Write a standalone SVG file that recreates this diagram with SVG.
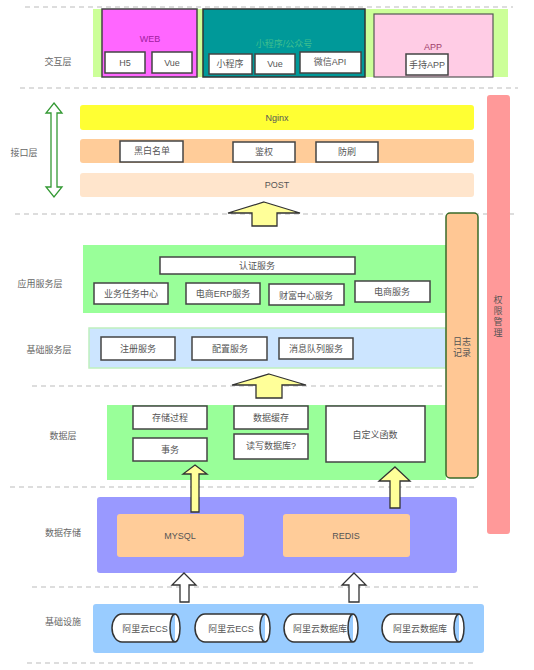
<svg xmlns="http://www.w3.org/2000/svg" width="534" height="670" viewBox="0 0 534 670">
<style>
text{font-family:"Liberation Sans","Noto Sans CJK SC",sans-serif;font-size:9px;fill:#555;text-anchor:middle;dominant-baseline:central}
.lbl{fill:#666}
.dash{stroke:#bbb;stroke-width:1;stroke-dasharray:5 4;fill:none}
.wb{fill:#fff;stroke:#444;stroke-width:1.5}
.yarrow{fill:#ffff99;stroke:#333;stroke-width:1.3;stroke-linejoin:miter}
.harrow{fill:#fff;stroke:#333;stroke-width:1.3}
.cyl{fill:#fff;stroke:#333;stroke-width:1.5}
</style>
<rect width="534" height="670" fill="#fff"/>
<g id="separators">
<line class="dash" x1="25" y1="7" x2="513" y2="7"/>
<line class="dash" x1="20" y1="88" x2="518" y2="88"/>
<line class="dash" x1="15" y1="214" x2="514" y2="214"/>
<line class="dash" x1="32" y1="386" x2="478" y2="386"/>
<line class="dash" x1="10" y1="487" x2="478" y2="487"/>
<line class="dash" x1="32" y1="587" x2="482" y2="587"/>
<line class="dash" x1="27" y1="663" x2="477" y2="663"/>
</g>
<g id="layer-labels">
<text class="lbl" x="58" y="62">交互层</text>
<text class="lbl" x="24" y="153">接口层</text>
<text class="lbl" x="40" y="284">应用服务层</text>
<text class="lbl" x="49" y="350">基础服务层</text>
<text class="lbl" x="63" y="436">数据层</text>
<text class="lbl" x="63" y="533">数据存储</text>
<text class="lbl" x="63" y="622">基础设施</text>
</g>
<g id="interaction-layer">
<rect x="93" y="9" width="415" height="68" fill="#ccff99"/>
<g id="web">
<rect x="102" y="9" width="95" height="68" fill="#ff66ff" stroke="#444" stroke-width="1.5"/>
<text x="150" y="39" style="fill:#a020a0">WEB</text>
<rect class="wb" x="105" y="52" width="40" height="21"/><text x="125" y="63">H5</text>
<rect class="wb" x="152" y="52" width="40" height="21"/><text x="172" y="63">Vue</text>
</g>
<g id="miniprogram">
<rect x="203" y="9" width="162" height="68" fill="#009999" stroke="#333" stroke-width="1.5"/>
<text x="284" y="44" style="fill:#3fbf8f">小程序/公众号</text>
<rect class="wb" x="209" y="54" width="43" height="20"/><text x="230" y="64">小程序</text>
<rect class="wb" x="255" y="54" width="40" height="20"/><text x="275" y="64">Vue</text>
<rect class="wb" x="300" y="52" width="61" height="21"/><text x="330" y="62">微信API</text>
</g>
<g id="app">
<rect x="374" y="14" width="119" height="63" fill="#ffcce5" stroke="#555" stroke-width="1.2"/>
<text x="433" y="47" style="fill:#a0406a">APP</text>
<rect class="wb" x="406" y="54" width="42" height="21"/><text x="427" y="65">手持APP</text>
</g>
</g>
<g id="interface-layer">
<rect id="nginx" x="80" y="105" width="394" height="25" rx="3" fill="#ffff33"/>
<text x="277" y="118">Nginx</text>
<rect x="80" y="139" width="394" height="24" rx="3" fill="#ffcc99"/>
<g id="blacklist"><rect class="wb" x="120" y="141" width="63" height="21"/><text x="152" y="151">黑白名单</text></g>
<g id="auth"><rect class="wb" x="233" y="142" width="62" height="20"/><text x="264" y="152">鉴权</text></g>
<g id="antibrush"><rect class="wb" x="316" y="142" width="62" height="20"/><text x="347" y="152">防刷</text></g>
<rect id="post" x="80" y="173" width="394" height="24" rx="3" fill="#ffe5cc"/>
<text x="277" y="185">POST</text>
</g>
<g id="app-service-layer">
<rect x="83" y="245" width="363" height="68" fill="#99ff99"/>
<g id="certify"><rect class="wb" x="160" y="257" width="195" height="17"/><text x="257" y="266">认证服务</text></g>
<g id="task"><rect class="wb" x="94" y="283" width="74" height="21"/><text x="131" y="294">业务任务中心</text></g>
<g id="erp"><rect class="wb" x="186" y="283" width="74" height="21"/><text x="223" y="294">电商ERP服务</text></g>
<g id="wealth"><rect class="wb" x="269" y="284" width="75" height="21"/><text x="306" y="296">财富中心服务</text></g>
<g id="ecom"><rect class="wb" x="355" y="281" width="75" height="21"/><text x="392" y="292">电商服务</text></g>
</g>
<g id="base-service-layer">
<rect x="89" y="328" width="357" height="40" fill="#cce5ff" stroke="#bff0bf" stroke-width="1.5"/>
<g id="register"><rect class="wb" x="101" y="337" width="74" height="23"/><text x="138" y="349">注册服务</text></g>
<g id="config"><rect class="wb" x="192" y="337" width="75" height="23"/><text x="230" y="349">配置服务</text></g>
<g id="mq"><rect class="wb" x="279" y="338" width="74" height="21"/><text x="316" y="349">消息队列服务</text></g>
</g>
<g id="data-layer">
<rect x="107" y="405" width="339" height="75" fill="#99ff99"/>
<g id="proc"><rect class="wb" x="133" y="406" width="74" height="23"/><text x="170" y="418">存储过程</text></g>
<g id="tx"><rect class="wb" x="133" y="438" width="74" height="23"/><text x="170" y="450">事务</text></g>
<g id="cache"><rect class="wb" x="234" y="406" width="74" height="23"/><text x="271" y="418">数据缓存</text></g>
<g id="rw"><rect class="wb" x="234" y="434" width="74" height="25"/><text x="271" y="446">读写数据库?</text></g>
<g id="udf"><rect class="wb" x="326" y="406" width="99" height="56"/><text x="375" y="435">自定义函数</text></g>
</g>
<g id="storage-layer">
<rect x="97" y="497" width="360" height="76" rx="3" fill="#9999ff"/>
<g id="mysql"><rect x="117" y="514" width="127" height="43" rx="3" fill="#ffcc99"/><text x="180" y="536">MYSQL</text></g>
<g id="redis"><rect x="283" y="514" width="127" height="43" rx="3" fill="#ffcc99"/><text x="346" y="536">REDIS</text></g>
</g>
<g id="infra-layer">
<rect x="93" y="604" width="391" height="49" rx="3" fill="#99ccff"/>
<g id="ecs1"><path class="cyl" d="M122,614 H175 A5,14 0 0 1 175,642 H122 A10,14 0 0 1 122,614 Z M175,614 A5,14 0 0 0 175,642"/><text x="145" y="629">阿里云ECS</text></g>
<g id="ecs2"><path class="cyl" d="M205,614 H265 A5,14 0 0 1 265,642 H205 A10,14 0 0 1 205,614 Z M265,614 A5,14 0 0 0 265,642"/><text x="231" y="629">阿里云ECS</text></g>
<g id="db1"><path class="cyl" d="M294,614 H353 A5,14 0 0 1 353,642 H294 A10,14 0 0 1 294,614 Z M353,614 A5,14 0 0 0 353,642"/><text x="320" y="629">阿里云数据库</text></g>
<g id="db2"><path class="cyl" d="M392,614 H459 A5,14 0 0 1 459,642 H392 A10,14 0 0 1 392,614 Z M459,614 A5,14 0 0 0 459,642"/><text x="420" y="629">阿里云数据库</text></g>
</g>
<g id="side-bars">
<g id="log"><rect x="446" y="213" width="32" height="265" rx="4" fill="#ffc794" stroke="#3a6b2a" stroke-width="1.5"/>
<text x="462" y="342">日志</text><text x="462" y="353">记录</text></g>
<g id="perm"><rect x="487" y="95" width="23" height="439" rx="3" fill="#ff9999"/>
<text x="498" y="300">权</text><text x="498" y="311">限</text><text x="498" y="322">管</text><text x="498" y="333">理</text></g>
</g>
<g id="connectors">
<path d="M54,103 L62,113 L57,113 L57,187 L62,187 L54,197 L46,187 L51,187 L51,113 L46,113 Z" fill="#fff" stroke="#339933" stroke-width="1.3"/>
<path class="yarrow" d="M264,202 L300,213 L277,213 L277,226 L252,226 L252,213 L228,213 Z"/>
<path class="yarrow" d="M269,374 L306,385 L282,385 L282,398 L256,398 L256,385 L232,385 Z"/>
<path class="yarrow" d="M195,465 L207,474 L199,474 L199,512 L191,512 L191,474 L183,474 Z"/>
<path class="yarrow" d="M395,467 L410,481 L400,481 L400,508 L390,508 L390,481 L379,481 Z"/>
<path class="harrow" d="M184,573 L196,585 L189,585 L189,602 L180,602 L180,585 L172,585 Z"/>
<path class="harrow" d="M354,573 L366,585 L359,585 L359,602 L349,602 L349,585 L342,585 Z"/>
</g>
</svg>
